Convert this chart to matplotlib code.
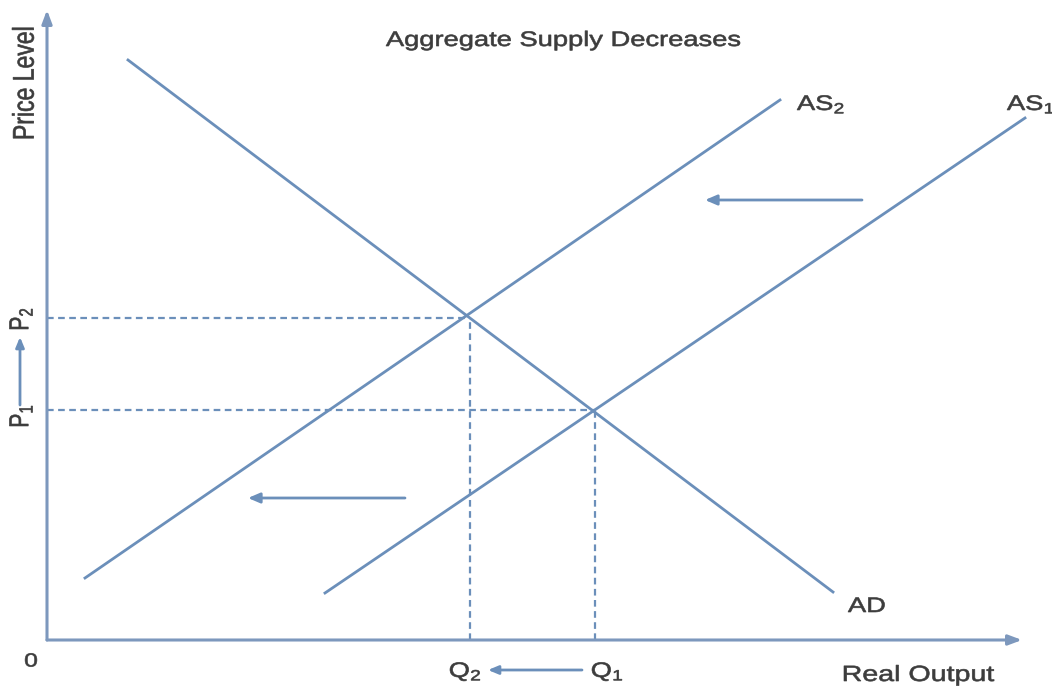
import matplotlib
matplotlib.use("Agg")
import matplotlib.pyplot as plt
from matplotlib.textpath import TextPath
from matplotlib.patches import PathPatch
from matplotlib.font_manager import FontProperties
from matplotlib.transforms import Affine2D

# ---- data (origin of the diagram at (0, 0); x = real output, y = price level) ----
ad_x = [81, 786]
ad_y = [580, 48]
as2_x = [38, 733]
as2_y = [62, 540]
as1_x = [278, 978]
as1_y = [47, 522]
eq2 = (423, 322)   # (Q2, P2)
eq1 = (548, 230)   # (Q1, P1)
shift_arrow_top = [(815, 440), (658, 440)]
shift_arrow_low = [(358, 142), (201, 142)]
title = "Aggregate Supply Decreases"
x_label = "Real Output"
y_label = "Price Level"

LINE = "#6b8fba"
AXIS = "#7d98bd"
TXT = "#3c3c3c"

plt.rcParams['font.family'] = ['Liberation Sans', 'DejaVu Sans']
plt.rcParams['mathtext.fontset'] = 'custom'
plt.rcParams['mathtext.rm'] = 'Liberation Sans'
plt.rcParams['mathtext.it'] = 'Liberation Sans'
plt.rcParams['mathtext.default'] = 'regular'

fig = plt.figure(figsize=(10.52, 6.86), dpi=100)
ax = fig.add_axes([0, 0, 1, 1])
ax.set_xlim(-47, 1005)
ax.set_ylim(-46, 640)
ax.axis("off")

FP = FontProperties(family='Liberation Sans')
XS = 1.3  # horizontal stretch of the original picture


def stext(x, y, s, em, rot=0, ha="left", va="baseline"):
    tp = TextPath((0, 0), s, size=em, prop=FP)
    ext = tp.get_extents()
    ax_ = {"left": ext.x0, "center": (ext.x0 + ext.x1) / 2, "right": ext.x1}[ha]
    ay_ = {"baseline": 0, "center": (ext.y0 + ext.y1) / 2, "top": ext.y1}[va]
    tr = (Affine2D().translate(-ax_, -ay_).rotate_deg(rot).scale(XS, 1)
          .translate(x, y) + ax.transData)
    ax.add_patch(PathPatch(tp, transform=tr, facecolor=TXT, edgecolor=TXT, lw=0.45))


# axes with arrows
ax.annotate("", xy=(975, 0), xytext=(0, 0),
            arrowprops=dict(arrowstyle="-|>,head_length=0.8,head_width=0.3", color=AXIS, lw=2.2, shrinkA=0, shrinkB=0))
ax.annotate("", xy=(0, 630), xytext=(0, 0),
            arrowprops=dict(arrowstyle="-|>,head_length=0.8,head_width=0.3", color=AXIS, lw=2.2, shrinkA=0, shrinkB=0))

# curves
ax.plot(ad_x, ad_y, color=LINE, lw=2)
ax.plot(as2_x, as2_y, color=LINE, lw=2)
ax.plot(as1_x, as1_y, color=LINE, lw=2)

# dashed guides
for (q, p) in (eq2, eq1):
    ax.plot([0, q], [p, p], color=LINE, lw=1.6, ls=(0, (3, 2)))
    ax.plot([q, q], [0, p], color=LINE, lw=1.6, ls=(0, (3, 2)))

# shift arrows
for (start, end) in (shift_arrow_top, shift_arrow_low):
    ax.annotate("", xy=end, xytext=start,
                arrowprops=dict(arrowstyle="-|>,head_length=0.7,head_width=0.3", color=LINE, lw=2, shrinkA=0, shrinkB=0))

# Q arrow and P arrow
ax.annotate("", xy=(eq2[0] + 18, -30), xytext=(eq1[0] - 13, -30),
            arrowprops=dict(arrowstyle="-|>,head_length=0.6,head_width=0.25", color=LINE, lw=2, shrinkA=0, shrinkB=0))
ax.annotate("", xy=(-27, eq2[1] - 19), xytext=(-27, eq1[1] + 5),
            arrowprops=dict(arrowstyle="-|>,head_length=0.6,head_width=0.25", color=LINE, lw=2, shrinkA=0, shrinkB=0))

# texts
stext(516, 594, title, 21, ha="center")
stext(-24, 557, y_label, 23, rot=90, ha="center", va="center")
stext(-26, eq2[1] - 1, r"P$_2$", 21, rot=90, ha="center", va="center")
stext(-26, eq1[1] - 6, r"P$_1$", 21, rot=90, ha="center", va="center")
stext(-16, -20, "0", 19, ha="center", va="center")
stext(403, -37, r"Q$_2$", 21)
stext(545, -37, r"Q$_1$", 21)
stext(797, -41, x_label, 22)
stext(801, 28, "AD", 21)
stext(750, 530, r"AS$_2$", 21)
stext(960, 530, r"AS$_1$", 21)

fig.savefig("out.png", dpi=100, facecolor="white")
